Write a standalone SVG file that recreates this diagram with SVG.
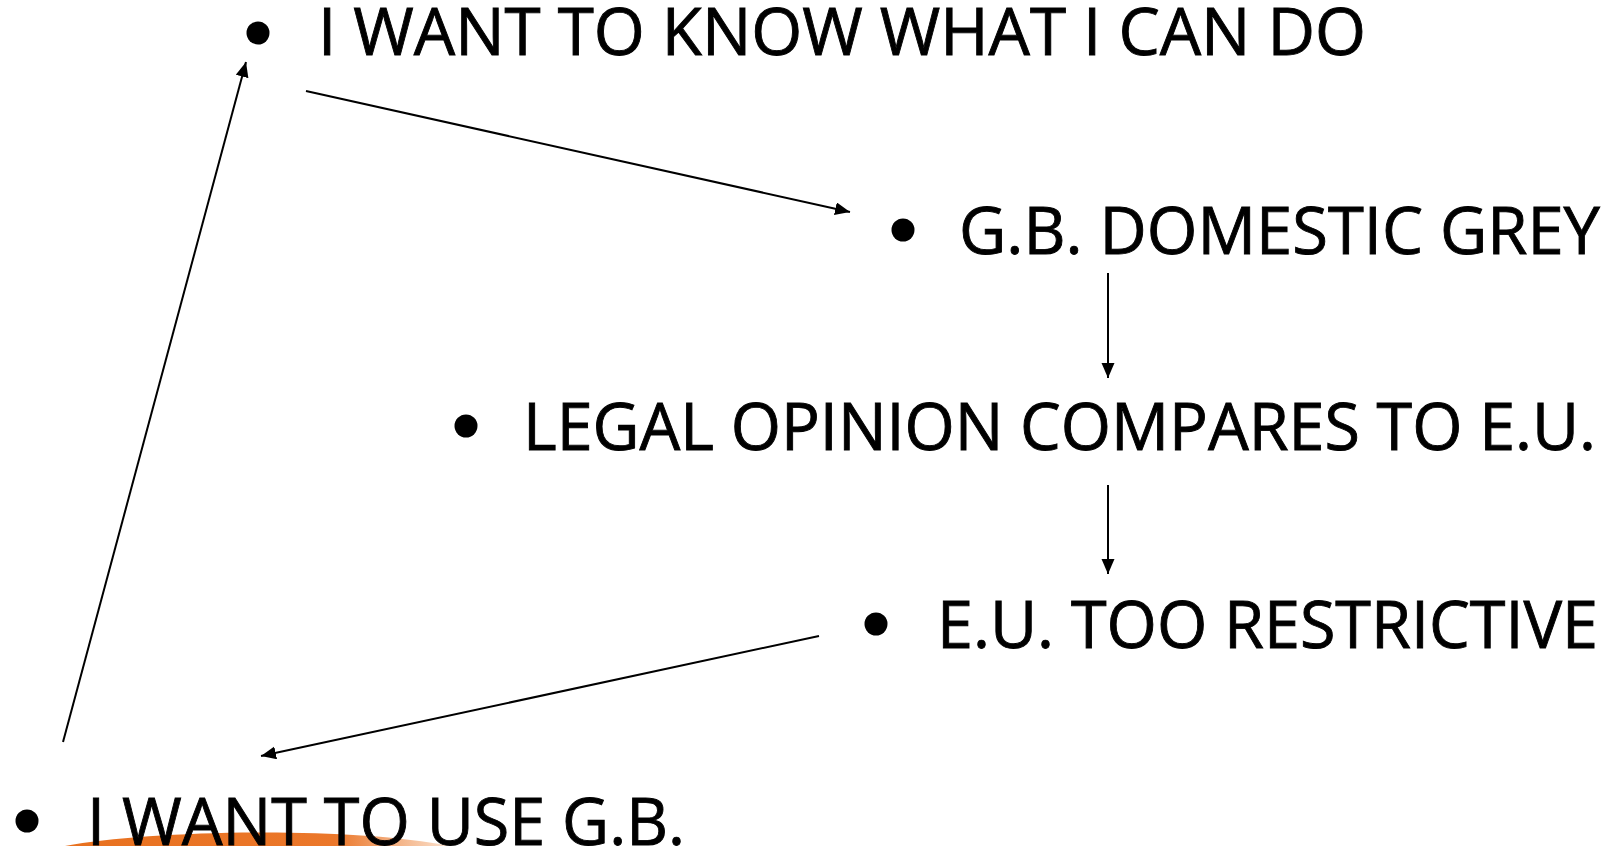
<svg xmlns="http://www.w3.org/2000/svg" width="1617" height="846" viewBox="0 0 1617 846">
  <style>
    .t { font-family: "Open Sans", "Liberation Sans", sans-serif; font-size: 66px; fill: #000; stroke: #000; stroke-width: 0.9px; }
    .b { fill: #000; }
    .c { stroke: #000; stroke-width: 2; fill: none; marker-end: url(#ah); }
  </style>
  <defs>
    <marker id="ah" markerUnits="userSpaceOnUse" markerWidth="16" markerHeight="14" refX="15" refY="6.5" orient="auto">
      <path d="M0,0 L15,6.5 L0,13 z" fill="#000"/>
    </marker>
    <linearGradient id="og" x1="0" y1="0" x2="1" y2="0">
      <stop offset="0" stop-color="#E8711F"/>
      <stop offset="0.7" stop-color="#EB772A"/>
      <stop offset="1" stop-color="#FBE3D0"/>
    </linearGradient>
  </defs>
  <rect width="1617" height="846" fill="#fff"/>
  <path d="M 65 846 C 150 830, 350 826, 450 846 Z" fill="url(#og)"/>

  <g id="connectors">
    <line class="c" x1="63" y1="742" x2="246" y2="62"/>
    <line class="c" x1="306" y1="91" x2="850" y2="212"/>
    <line class="c" x1="1108" y1="273" x2="1108" y2="378"/>
    <line class="c" x1="1108" y1="485" x2="1108" y2="574"/>
    <line class="c" x1="819" y1="636" x2="261" y2="756"/>
  </g>

  <g id="node-know">
    <circle class="b" cx="258" cy="33" r="11.5"/>
    <text class="t" x="318" y="55" textLength="1048" lengthAdjust="spacingAndGlyphs">I WANT TO KNOW WHAT I CAN DO</text>
  </g>
  <g id="node-gb-grey">
    <circle class="b" cx="903" cy="230" r="11.5"/>
    <text class="t" x="959" y="254" textLength="641" lengthAdjust="spacingAndGlyphs">G.B. DOMESTIC GREY</text>
  </g>
  <g id="node-legal">
    <circle class="b" cx="466" cy="426" r="11.5"/>
    <text class="t" x="523" y="450" textLength="1073" lengthAdjust="spacingAndGlyphs">LEGAL OPINION COMPARES TO E.U.</text>
  </g>
  <g id="node-eu">
    <circle class="b" cx="876" cy="624" r="11.5"/>
    <text class="t" x="937" y="648" textLength="661" lengthAdjust="spacingAndGlyphs">E.U. TOO RESTRICTIVE</text>
  </g>
  <g id="node-use-gb">
    <circle class="b" cx="27" cy="821" r="11.5"/>
    <text class="t" x="87" y="845" textLength="598" lengthAdjust="spacingAndGlyphs">I WANT TO USE G.B.</text>
  </g>
</svg>
